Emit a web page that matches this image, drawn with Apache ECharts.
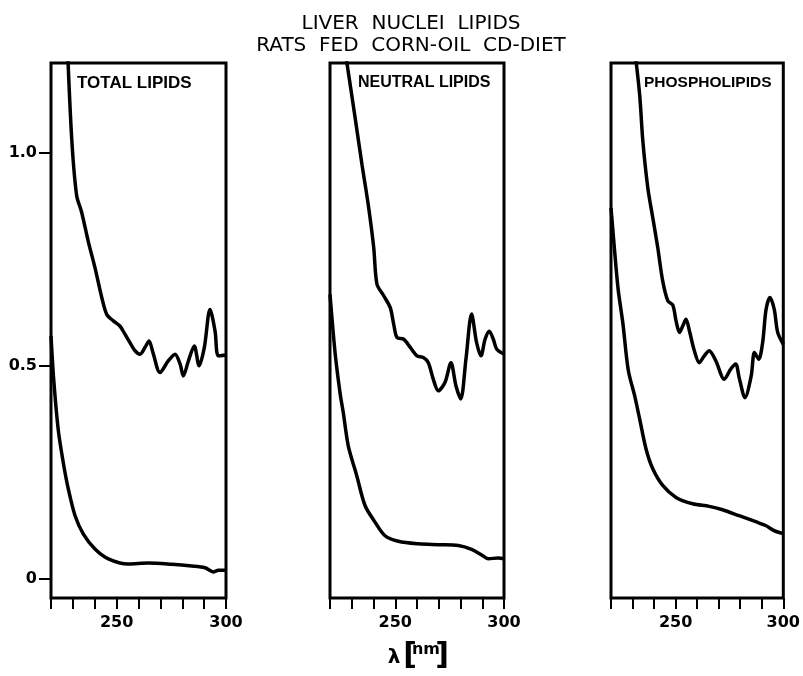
<!DOCTYPE html>
<html>
<head>
<meta charset="utf-8">
<script src="https://cdn.jsdelivr.net/npm/echarts@6/dist/echarts.min.js"></script>
<style>
  html, body { margin: 0; padding: 0; background: #fff; }
  #chart { width: 803px; height: 676px; }
</style>
</head>
<body>
<div id="chart"></div>
<script>
// wavelength [nm], absorbance pairs
var totalUpper = [[227.5,1.25],[229.5,1.03],[231.7,0.90],[234.0,0.86],[237.1,0.79],[240.1,0.73],[243.2,0.66],[245.5,0.62],[248.5,0.605],[251.5,0.593],[253.8,0.574],[256.1,0.554],[258.4,0.535],[260.7,0.527],[263.0,0.543],[264.8,0.558],[266.8,0.527],[269.8,0.484],[273.6,0.511],[276.7,0.527],[279.0,0.504],[280.5,0.476],[282.8,0.511],[285.5,0.546],[287.7,0.50],[290.1,0.543],[292.7,0.632],[295.0,0.581],[296.5,0.523],[300,0.525]];
var totalLower = [[220,0.57],[221.2,0.47],[223.3,0.35],[225.6,0.273],[227.9,0.211],[231.0,0.148],[234.8,0.105],[240.1,0.07],[246.2,0.047],[255.3,0.035],[264.5,0.037],[275.2,0.034],[284.3,0.03],[290.4,0.026],[292.5,0.02],[294.2,0.016],[296.5,0.02],[300,0.02]];
var neutralUpper = [[226.6,1.25],[231.6,1.08],[234.7,0.972],[237.8,0.87],[240.1,0.777],[241.6,0.691],[244.7,0.664],[247.7,0.636],[249.3,0.597],[250.8,0.566],[253.9,0.562],[256.9,0.543],[260.0,0.523],[262.9,0.519],[265.2,0.507],[267.5,0.468],[269.8,0.441],[272.9,0.461],[275.6,0.507],[277.9,0.453],[280.1,0.422],[282.5,0.515],[285.1,0.621],[287.4,0.554],[289.4,0.523],[291.3,0.562],[293.2,0.581],[295.1,0.562],[296.6,0.539],[300,0.527]];
var neutralLower = [[220,0.667],[222.4,0.527],[224.7,0.433],[226.1,0.39],[228.4,0.312],[232.3,0.242],[236.1,0.172],[240.7,0.133],[245.3,0.101],[251.4,0.088],[260.6,0.082],[269.8,0.08],[279.0,0.078],[285.1,0.069],[289.7,0.056],[292.8,0.047],[297.4,0.049],[300,0.047]];
var phosphoUpper = [[230.8,1.25],[233.3,1.136],[234.8,1.026],[237.1,0.917],[239.4,0.847],[241.7,0.777],[244.0,0.699],[246.4,0.652],[248.7,0.642],[250.2,0.605],[251.8,0.578],[253.3,0.593],[254.8,0.609],[256.4,0.582],[258.7,0.535],[261.0,0.507],[263.3,0.523],[265.6,0.535],[268.7,0.511],[272.6,0.468],[275.6,0.492],[277.9,0.504],[279.5,0.472],[282.2,0.425],[285.1,0.476],[286.6,0.531],[288.6,0.515],[290.4,0.554],[292.0,0.632],[293.8,0.66],[295.8,0.632],[297.4,0.578],[300,0.55]];
var phosphoLower = [[220,0.87],[221.5,0.78],[223.3,0.68],[225.5,0.6],[228,0.49],[231.0,0.429],[233.3,0.375],[236.3,0.304],[239.4,0.258],[244.0,0.219],[250.2,0.191],[257.9,0.176],[265.6,0.17],[271.8,0.162],[279.5,0.148],[287.2,0.134],[291.8,0.125],[295.7,0.113],[300,0.106]];

var panelTitles = ['TOTAL LIPIDS', 'NEUTRAL LIPIDS', 'PHOSPHOLIPIDS'];
var xLabels = [250, 300];
var yLabels = [0, 0.5, 1.0];

var myChart = echarts.init(document.getElementById('chart'));

var panels = [
    {left: 51, width: 175, tx: 77, size: 17},
    {left: 330, width: 174, tx: 358, size: 16},
    {left: 611, width: 173, tx: 644, size: 15.5}
];
var curves = [[totalUpper, totalLower], [neutralUpper, neutralLower], [phosphoUpper, phosphoLower]];

var grids = [], xAxes = [], yAxes = [], series = [], texts = [];
panels.forEach(function (p, i) {
    grids.push({
        left: p.left, width: p.width, top: 63, bottom: 78,
        show: true, borderColor: '#000', borderWidth: 3, backgroundColor: 'transparent'
    });
    xAxes.push({
        type: 'value', gridIndex: i, min: 220, max: 300, interval: 10,
        axisLine: {show: false, onZero: false},
        axisTick: {show: true, length: 11, lineStyle: {color: '#000', width: 2}},
        splitLine: {show: false},
        axisLabel: {
            margin: 17, color: '#000', fontFamily: 'DejaVu Sans', fontWeight: 'bold', fontSize: 16,
            formatter: function (v) { return xLabels.indexOf(v) >= 0 ? String(v) : ''; }
        }
    });
    yAxes.push({
        type: 'value', gridIndex: i, min: -0.045, max: 1.21,
        axisLine: {show: false, onZero: false},
        splitLine: {show: false},
        axisTick: {show: i === 0, length: 12, customValues: yLabels, lineStyle: {color: '#000', width: 2}},
        axisLabel: {
            show: i === 0, margin: 14, customValues: yLabels, color: '#000',
            fontFamily: 'DejaVu Sans', fontWeight: 'bold', fontSize: 16,
            formatter: function (v) { return v === 0 ? '0' : v.toFixed(1); }
        }
    });
    curves[i].forEach(function (d) {
        series.push({
            type: 'line', xAxisIndex: i, yAxisIndex: i, data: d,
            showSymbol: false, symbol: 'none', smooth: 0.3, clip: true,
            lineStyle: {color: '#000', width: 3.5}
        });
    });
    texts.push({
        type: 'text', x: p.tx, y: 83,
        style: {text: panelTitles[i], fill: '#000', font: 'bold ' + p.size + 'px "Liberation Sans"', textVerticalAlign: 'middle'}
    });
});

texts.push(
    {type: 'text', x: 394, y: 658, style: {text: 'λ', fill: '#000', font: 'bold 20px "DejaVu Sans"', textAlign: 'center', textVerticalAlign: 'middle'}},
    {type: 'text', x: 410, y: 656, style: {text: '[', fill: '#000', font: 'bold 30px "DejaVu Sans"', textAlign: 'center', textVerticalAlign: 'middle'}},
    {type: 'text', x: 426, y: 650, style: {text: 'nm', fill: '#000', font: 'bold 16px "DejaVu Sans"', textAlign: 'center', textVerticalAlign: 'middle'}},
    {type: 'text', x: 442, y: 656, style: {text: ']', fill: '#000', font: 'bold 30px "DejaVu Sans"', textAlign: 'center', textVerticalAlign: 'middle'}}
);

option = {
    backgroundColor: '#fff',
    animation: false,
    title: {
        text: 'LIVER  NUCLEI  LIPIDS\nRATS  FED  CORN-OIL  CD-DIET',
        left: 406, top: 8, textAlign: 'center',
        textStyle: {color: '#000', fontFamily: 'DejaVu Sans', fontWeight: 'normal', fontSize: 20, lineHeight: 22}
    },
    grid: grids,
    xAxis: xAxes,
    yAxis: yAxes,
    series: series,
    graphic: texts
};
myChart.setOption(option);
</script>
</body>
</html>
